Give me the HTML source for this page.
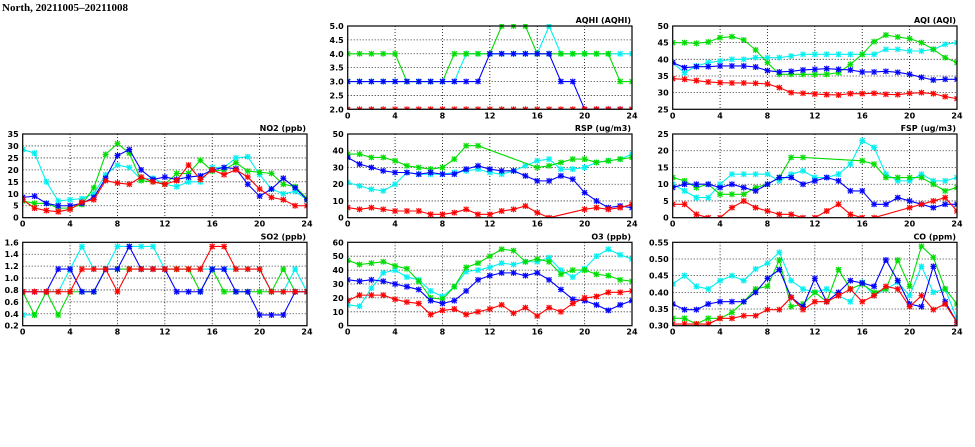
<!DOCTYPE html>
<html><head><meta charset="utf-8"><style>
html,body{margin:0;padding:0;background:#fff;width:975px;height:447px;overflow:hidden}
svg{display:block}
</style></head><body>
<svg id="s" width="975" height="447" xmlns="http://www.w3.org/2000/svg"></svg>
<script>
const C={c:'#00f0f0',g:'#00dd00',b:'#0000ff',r:'#ff0000'};
const X1=[22.7,307],X2=[347.7,632],X3=[672.7,957];
const R1=[26,109.3],R2=[134,217.7],R3=[242.3,325.7];
const panels=[
{t:'AQHI (AQHI)',x:X2,y:R1,min:2,max:5,ticks:[2,2.5,3,3.5,4,4.5,5],fmt:v=>v.toFixed(1),d:{
c:[3,3,3,3,3,3,3,3,3,3,4,4,4,4,4,4,4,5,4,4,4,4,4,4,4],
g:[4,4,4,4,4,3,3,3,3,4,4,4,4,5,5,5,4,4,4,4,4,4,4,3,3],
b:[3,3,3,3,3,3,3,3,3,3,3,3,4,4,4,4,4,4,3,3,2,2,2,2,2],
r:Array(25).fill(2)}},
{t:'AQI (AQI)',x:X3,y:R1,min:25,max:50,ticks:[25,30,35,40,45,50],fmt:v=>''+v,d:{
c:[39,36,38,39,39.5,40,40,40.5,40.5,40.5,41,41.5,41.5,41.5,41.5,41.5,41.5,41.5,43,43,42.5,42.5,43,44.5,45],
g:[45,45,44.8,45.2,46.5,46.8,45.8,42.8,39,35.5,35.5,35.5,35.5,35.5,36,38.5,41.5,45.3,47.3,46.7,46.2,45,43,40.5,39],
b:[39,37.5,37.8,37.8,38,38,38,37.7,36.6,36.2,36.4,36.8,37,37.2,37,36.8,36.2,36.2,36.4,36.1,35.5,34.6,33.8,34,34],
r:[34.2,34,33.6,33.2,33,32.9,32.9,32.8,32.6,31.5,30,29.8,29.6,29.4,29.3,29.7,29.7,29.8,29.5,29.4,29.8,30,29.7,28.8,28.2]}},
{t:'NO2 (ppb)',x:X1,y:R2,min:0,max:35,ticks:[0,5,10,15,20,25,30,35],fmt:v=>''+v,d:{
c:[28.5,27,15,7,7.5,8,10,18,22,21,16,16.5,14,13,15,15,21,21,25,25.5,18,12,10,11,7.5],
g:[7,6,6,4,4,5.5,12.5,26.5,31,27,15.5,15,14,18.5,18.5,24,19.5,20,23,19.5,19,18.5,14,13,8],
b:[8.5,9,6,5,5,6,8.5,16.5,26,28.5,20,16,17,16,17,17.5,20,21,20.5,14,9,12,16.5,12.5,7.5],
r:[7.5,4,3,2.5,3.5,6.5,7.5,15.5,14.5,14,17,15,14,15.5,22,16,20,18,20,17,12,8.5,7.5,5,5]}},
{t:'RSP (ug/m3)',x:X2,y:R2,min:0,max:50,ticks:[0,10,20,30,40,50],fmt:v=>''+v,d:{
c:[21,19,17,16,20,27,26,26,26,27,28,29,27,26,28,31,34,35,29,29,30,33,34,35,38],
g:[38,38,36,36,34,31,30,29,30,35,43,43,null,null,null,null,30,31,33,35,35,33,34,35,36],
b:[36,32,30,28,27,27,26,27,26,26,29,31,29,28,28,25,22,22,25,23,15,10,6,7,6],
r:[6,5,6,5,4,4,4,2,2,3,5,2,2,4,5,7,3,0,null,null,5,6,5,6,8]}},
{t:'FSP (ug/m3)',x:X3,y:R2,min:0,max:25,ticks:[0,5,10,15,20,25],fmt:v=>''+v,d:{
c:[10,8,6,6,10,13,13,13,13,11,13,14,12,12,13,16,23,21,13,11,11,13,11,11,12],
g:[12,11,9,10,7,7,7,9,10,12,18,18,null,null,null,null,17,16,12,12,12,12,10,8,9],
b:[9,10,10,10,9,10,9,8,10,12,12,10,11,12,11,8,8,4,4,6,5,4,3,4,4],
r:[4,4,1,0,0,3,5,3,2,1,1,0,0,2,4,1,0,0,null,null,3,4,5,6,2]}},
{t:'SO2 (ppb)',x:X1,y:R3,min:0.2,max:1.6,ticks:[0.2,0.4,0.6,0.8,1.0,1.2,1.4,1.6],fmt:v=>v.toFixed(1),d:{
c:[.38,.38,.77,.77,1.15,1.53,1.15,1.15,1.53,1.53,1.53,1.53,1.15,1.15,1.15,1.15,1.15,1.15,1.15,1.15,1.15,.77,.77,1.15,.77],
g:[.77,.38,.77,.38,.77,.77,.77,1.15,1.15,1.15,1.15,1.15,1.15,1.15,1.15,.77,1.15,.77,.77,.77,.77,.77,1.15,.77,.77],
b:[.77,.77,.77,1.15,1.15,.77,.77,1.15,1.15,1.53,1.15,1.15,1.15,.77,.77,.77,1.15,1.15,.77,.77,.38,.38,.38,.77,.77],
r:[.77,.77,.77,.77,.77,1.15,1.15,1.15,.77,1.15,1.15,1.15,1.15,1.15,1.15,1.15,1.53,1.53,1.15,1.15,1.15,.77,.77,.77,.77]}},
{t:'O3 (ppb)',x:X2,y:R3,min:0,max:60,ticks:[0,10,20,30,40,50,60],fmt:v=>''+v,d:{
c:[15,14,27,38,40,35,33,25,21,28,39,40,42,45,44,46,46,49,40,35,41,50,55,51,48],
g:[47,44,45,46,43,41,32,20,19,28,42,45,50,55,54,46,48,46,37,40,40,37,36,33,32],
b:[33,32,33,32,30,28,26,18,16,18,25,33,36,38,38,36,38,33,26,19,18,15,11,15,18],
r:[18,22,22,22,19,17,16,8,11,12,8,10,12,15,9,13,7,13,10,16,20,21,24,24,25]}},
{t:'CO (ppm)',x:X3,y:R3,min:0.3,max:0.55,ticks:[0.3,0.35,0.4,0.45,0.5,0.55],fmt:v=>v.toFixed(2),d:{
c:[.425,.45,.418,.41,.435,.45,.435,.47,.487,.52,.435,.41,.4,.41,.39,.372,.43,.39,.41,.43,.39,.478,.4,.41,.32],
g:[.322,.322,.305,.322,.322,.34,.372,.41,.418,.497,.357,.365,.4,.372,.468,.41,.425,.4,.41,.497,.418,.538,.505,.41,.365],
b:[.365,.348,.348,.365,.372,.372,.372,.4,.442,.468,.385,.357,.442,.372,.4,.435,.428,.418,.497,.435,.365,.357,.478,.372,.31],
r:[.305,.305,.305,.305,.322,.322,.33,.33,.348,.348,.385,.348,.372,.372,.39,.41,.372,.39,.418,.41,.357,.39,.348,.365,.31]}}
];
let h='<text x="2" y="11" font-family="Liberation Serif,serif" font-weight="bold" font-size="10.5" textLength="126" lengthAdjust="spacingAndGlyphs">North, 20211005–20211008</text>';
const TF='font-family="DejaVu Sans,Liberation Sans,sans-serif" font-weight="bold" font-size="8"';
for(const p of panels){
 const [x0,x1]=p.x,[y0,y1]=p.y;
 const sx=i=>x0+(x1-x0)*i/24, sy=v=>y1-(y1-y0)*(v-p.min)/(p.max-p.min);
 for(const t of p.ticks){const y=sy(t);
  if(t!==p.min&&t!==p.max)h+=`<line x1="${x0}" y1="${y}" x2="${x1}" y2="${y}" stroke="#000" stroke-width="0.8" stroke-dasharray="1,2"/>`;
  h+=`<text x="${x0-4}" y="${y+3}" text-anchor="end" ${TF}>${p.fmt(t)}</text>`;}
 for(let i=0;i<=24;i+=4){const x=sx(i);
  if(i>0&&i<24)h+=`<line x1="${x}" y1="${y0}" x2="${x}" y2="${y1}" stroke="#000" stroke-width="0.8" stroke-dasharray="1,2"/>`;
  h+=`<text x="${x}" y="${y1+9}" text-anchor="middle" ${TF}>${i}</text>`;}
 h+=`<text x="${x1-1}" y="${y0-3}" text-anchor="end" ${TF}>${p.t}</text>`;
 h+=`<defs><clipPath id="cp${x0}${y0}"><rect x="${x0}" y="${y0-2}" width="${x1-x0}" height="${y1-y0+2}"/></clipPath></defs><g clip-path="url(#cp${x0}${y0})">`;
 for(const k of ['c','g','b','r']){
  const pts=[];p.d[k].forEach((v,i)=>{if(v!==null)pts.push([sx(i),sy(v)])});
  h+=`<polyline fill="none" stroke="${C[k]}" stroke-width="1.1" points="${pts.map(q=>q.join(',')).join(' ')}"/>`;
  for(const [x,y] of pts){
   h+=`<rect x="${x-2.5}" y="${y-2.5}" width="5" height="5" fill="${C[k]}" fill-opacity="0.35"/>`;
   h+=`<path d="M${x-2.5},${y-2.5}L${x+2.5},${y+2.5}M${x-2.5},${y+2.5}L${x+2.5},${y-2.5}M${x-3},${y}L${x+3},${y}M${x},${y-3}L${x},${y+3}" stroke="${C[k]}" stroke-width="1"/>`;
  }
 }
 h+='</g>';
 h+=`<rect x="${x0}" y="${y0}" width="${x1-x0}" height="${y1-y0}" fill="none" stroke="#000" stroke-width="1.2"/>`;
}
document.getElementById('s').innerHTML=h;
</script>
</body></html>
